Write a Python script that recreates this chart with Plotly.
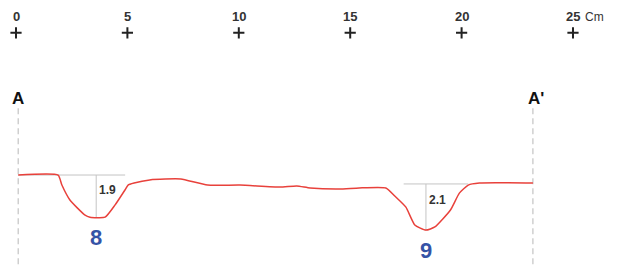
import plotly.graph_objects as go

# Scale ticks (cm)
tick_vals = [0, 5, 10, 15, 20, 25]
tick_text = ["0", "5", "10", "15", "20", "25"]

# Section ends
section_x = [0.1, 23.2]
section_labels = ["A", "A'"]

# Profile (distance cm, relative height cm)
prof_x = [0.1, 1.89, 2.06, 2.42, 3.10, 3.32, 4.0, 4.44, 4.89, 5.03, 5.3, 6.0, 6.7, 7.4,
          8.6, 10.05, 11.85, 12.6, 13.2, 14.5, 15.4, 16.6, 17.0, 17.5, 17.9, 18.4,
          18.8, 19.5, 19.9, 20.3, 20.8, 23.2]
prof_y = [0, 0, -0.45, -1.12, -1.8, -1.89, -1.89, -1.35, -0.67, -0.45, -0.36, -0.22, -0.18, -0.18,
          -0.45, -0.45, -0.54, -0.49, -0.58, -0.63, -0.58, -0.58, -0.94, -1.44, -2.24, -2.47,
          -2.33, -1.57, -0.81, -0.45, -0.36, -0.36]

# Depressions: id, reference line start/end, centre x, rim level, depth
dep_ids = ["8", "9"]
dep_x0 = [0.1, 17.4]
dep_x1 = [4.9, 20.3]
dep_cx = [3.6, 18.4]
dep_rim = [0.0, -0.40]
dep_depth = [1.9, 2.1]

red = "#e8413b"
fig = go.Figure()

# dashed section lines
for sx in section_x:
    fig.add_trace(go.Scatter(x=[sx, sx], y=[3.0, -4.2], mode="lines",
                             line=dict(color="#c8c8c8", width=1.3, dash="6px,4px"),
                             hoverinfo="skip", showlegend=False))

# depression reference lines
for x0, x1, cx, rim, d in zip(dep_x0, dep_x1, dep_cx, dep_rim, dep_depth):
    fig.add_trace(go.Scatter(x=[x0, x1], y=[rim, rim], mode="lines",
                             line=dict(color="#c4c4c4", width=1), hoverinfo="skip", showlegend=False))
    fig.add_trace(go.Scatter(x=[cx, cx], y=[rim, rim - d], mode="lines",
                             line=dict(color="#c4c4c4", width=1), hoverinfo="skip", showlegend=False))

# profile
fig.add_trace(go.Scatter(x=prof_x, y=prof_y, mode="lines",
                         line=dict(color=red, width=1.5, shape="spline", smoothing=0.5),
                         hoverinfo="skip", showlegend=False))

# depth labels and ids
for cx, rim, d, i in zip(dep_cx, dep_rim, dep_depth, dep_ids):
    fig.add_annotation(x=cx + 0.05, y=rim - d * 0.35, text=f"<b>{d:.1f}</b>", showarrow=False,
                       xanchor="left", font=dict(family="Liberation Sans, Arial", size=12, color="#333"))
    fig.add_annotation(x=cx, y=rim - d - 0.9, text=f"<b>{i}</b>", showarrow=False,
                       font=dict(family="Liberation Sans, Arial", size=22, color="#3553a6"))

# section labels
for sx, lab in zip(section_x, section_labels):
    fig.add_annotation(x=sx, y=3.45, text=f"<b>{lab}</b>", showarrow=False,
                       xanchor="center" if lab == "A" else "left", xshift=0 if lab == "A" else -7,
                       font=dict(family="Liberation Sans, Arial", size=17, color="#111"))

# scale bar
fig.add_trace(go.Scatter(x=tick_vals, y=[6.38] * len(tick_vals), mode="markers",
                         marker=dict(symbol="cross-thin", size=8, line=dict(color="#222", width=2)),
                         hoverinfo="skip", showlegend=False))
for v, t in zip(tick_vals, tick_text):
    fig.add_annotation(x=v, y=7.1, text=f"<b>{t}</b>", showarrow=False,
                       font=dict(family="Liberation Sans Narrow, Liberation Sans, Arial", size=13, color="#333"))
fig.add_annotation(x=tick_vals[-1] + 0.45, y=7.1, text="Cm", showarrow=False, xanchor="left",
                   font=dict(family="Liberation Sans, Arial", size=12, color="#333"))

fig.update_layout(width=618, height=266, margin=dict(l=0, r=0, t=0, b=0),
                  paper_bgcolor="white", plot_bgcolor="white",
                  xaxis=dict(range=[-0.718, 27.02], visible=False, fixedrange=True),
                  yaxis=dict(range=[-4.08, 7.85], visible=False, fixedrange=True))
fig.write_html("out.html", config={"displayModeBar": False},
               post_script="document.body.style.margin='0';document.body.style.overflow='hidden';")
